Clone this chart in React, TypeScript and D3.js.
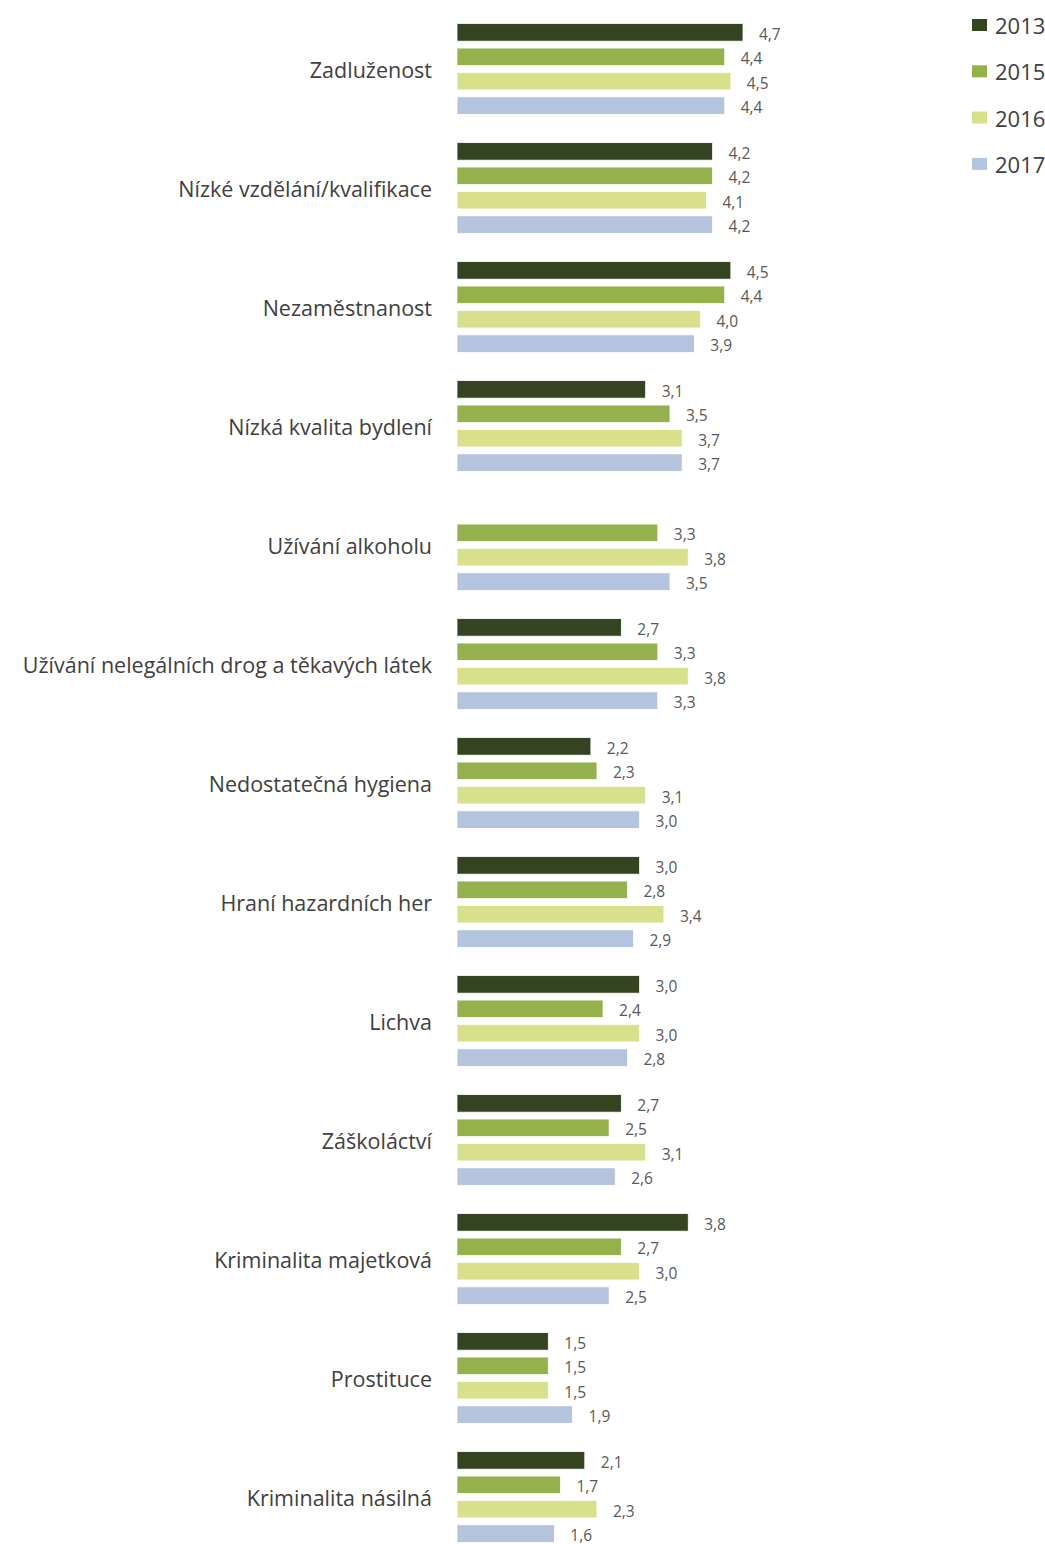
import React from "react";
import * as d3 from "d3";

const categories = [
  "Zadluženost",
  "Nízké vzdělání/kvalifikace",
  "Nezaměstnanost",
  "Nízká kvalita bydlení",
  "Užívání alkoholu",
  "Užívání nelegálních drog a těkavých látek",
  "Nedostatečná hygiena",
  "Hraní hazardních her",
  "Lichva",
  "Záškoláctví",
  "Kriminalita majetková",
  "Prostituce",
  "Kriminalita násilná",
];

const seriesNames = ["2013", "2015", "2016", "2017"];

const values2013: (number | null)[] = [4.7, 4.2, 4.5, 3.1, null, 2.7, 2.2, 3.0, 3.0, 2.7, 3.8, 1.5, 2.1];
const values2015: (number | null)[] = [4.4, 4.2, 4.4, 3.5, 3.3, 3.3, 2.3, 2.8, 2.4, 2.5, 2.7, 1.5, 1.7];
const values2016: (number | null)[] = [4.5, 4.1, 4.0, 3.7, 3.8, 3.8, 3.1, 3.4, 3.0, 3.1, 3.0, 1.5, 2.3];
const values2017: (number | null)[] = [4.4, 4.2, 3.9, 3.7, 3.5, 3.3, 3.0, 2.9, 2.8, 2.6, 2.5, 1.9, 1.6];

const seriesValues = [values2013, values2015, values2016, values2017];
const colors = ["#344320", "#94b14b", "#d9e08b", "#b4c4de"];

const W = 1045;
const H = 1544;

export default function App() {
  const y0 = d3.scaleBand<string>().domain(categories).range([9.5, 9.5 + 13 * 119]).padding(0);
  const y1 = d3
    .scaleBand<string>()
    .domain(seriesNames)
    .range([0, y0.bandwidth()])
    .paddingInner(0.283)
    .paddingOuter(0.58);
  const x = d3.scaleLinear().domain([0, 5]).range([457, 457 + 5 * 60.85]);
  const fmt = (v: number) => d3.format(".1f")(v).replace(".", ",");
  const font = "'Open Sans', 'Noto Sans', sans-serif";

  return (
    <svg
      width={W}
      height={H}
      style={{ position: "absolute", left: 0, top: 0, background: "#fff" }}
      fontFamily={font}
    >
      {categories.map((c, ci) => {
        const gy = y0(c)!;
        return (
          <g key={c}>
            <text
              x={432}
              y={gy + y0.bandwidth() / 2}
              textAnchor="end"
              dominantBaseline="central"
              fontSize={21.5}
              fill="#404040"
            >
              {c}
            </text>
            {seriesNames.map((s, si) => {
              const v = seriesValues[si][ci];
              if (v == null) return null;
              const by = gy + y1(s)!;
              return (
                <g key={s}>
                  <rect
                    x={x(0)}
                    y={by}
                    width={x(v) - x(0)}
                    height={y1.bandwidth()}
                    fill={colors[si]}
                    stroke="#fff"
                    strokeWidth={0.75}
                  />
                  <text
                    x={x(v) + 16}
                    y={by + y1.bandwidth() / 2 + 1.5}
                    dominantBaseline="central"
                    fontSize={15.5}
                    fill="#595959"
                  >
                    {fmt(v)}
                  </text>
                </g>
              );
            })}
          </g>
        );
      })}
      {seriesNames.map((s, si) => (
        <g key={s} transform={`translate(972, ${25 + si * 46.3})`}>
          <rect x={0} y={-6} width={15} height={12} fill={colors[si]} />
          <text x={23} y={0} dominantBaseline="central" fontSize={22} fill="#404040">
            {s}
          </text>
        </g>
      ))}
    </svg>
  );
}
